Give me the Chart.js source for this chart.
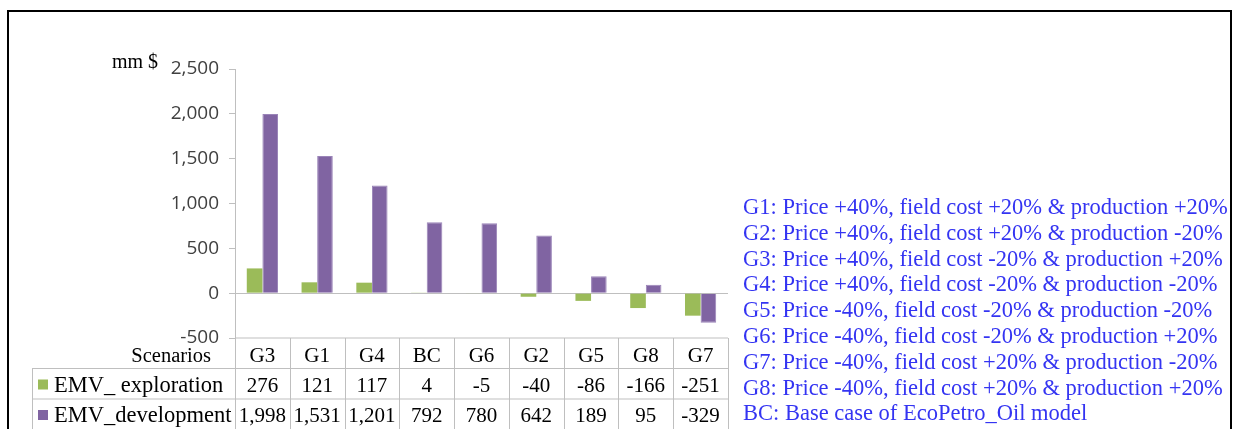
<!DOCTYPE html>
<html>
<head>
<meta charset="utf-8">
<script src="https://cdn.jsdelivr.net/npm/chart.js@4.4.1/dist/chart.umd.min.js"></script>
<style>
  body { margin: 0; background: #fff; }
  canvas { display: block; }
</style>
</head>
<body>
<canvas id="chart" width="1237" height="429"></canvas>
<script>
// Scenario data (mm $)
const scenarios = ['G3', 'G1', 'G4', 'BC', 'G6', 'G2', 'G5', 'G8', 'G7'];
const emvExploration = [276, 121, 117, 4, -5, -40, -86, -166, -251];
const emvDevelopment = [1998, 1531, 1201, 792, 780, 642, 189, 95, -329];
const seriesNames = ['EMV_ exploration', 'EMV_development'];
const yTicks = [-500, 0, 500, 1000, 1500, 2000, 2500];
const notes = [
    'G1: Price +40%, field cost +20% & production +20%',
    'G2: Price +40%, field cost +20% & production -20%',
    'G3: Price +40%, field cost -20% & production +20%',
    'G4: Price +40%, field cost -20% & production -20%',
    'G5: Price -40%, field cost -20% & production -20%',
    'G6: Price -40%, field cost -20% & production +20%',
    'G7: Price -40%, field cost +20% & production -20%',
    'G8: Price -40%, field cost +20% & production +20%',
    'BC: Base case of EcoPetro_Oil model'
];

const greenColour = '#9BBB59';
const purpleColour = '#8064A2';
const gridGrey = '#BFBFBF';
const serif = '"Liberation Serif", "Times New Roman", serif';

/*
* Draws the frame, unit label, data table and scenario notes
*/
const extrasPlugin = {
    id: 'extras',
    afterDraw: function(chart) {
        const ctx = chart.ctx;
        const xs = chart.scales.x;
        const ys = chart.scales.y;
        const top = ys.getPixelForValue(-500);
        const rowH = 30.5;

        ctx.save();

        // outer frame
        ctx.strokeStyle = '#000';
        ctx.lineWidth = 2;
        ctx.strokeRect(8, 11, 1223, 440);

        // unit label
        ctx.fillStyle = '#000';
        ctx.font = '20px ' + serif;
        ctx.textAlign = 'right';
        ctx.textBaseline = 'alphabetic';
        ctx.fillText('mm $', 158, 68);

        // column edges from the category scale
        var edges = [xs.left];
        for (var i = 0; i < scenarios.length - 1; i++) {
            edges.push((xs.getPixelForValue(i) + xs.getPixelForValue(i + 1)) / 2);
        }
        edges.push(xs.right);

        var tableLeft = 32;
        var bottom = top + rowH * 3;

        ctx.strokeStyle = gridGrey;
        ctx.lineWidth = 1;
        ctx.beginPath();
        // horizontal lines
        ctx.moveTo(xs.left, top); ctx.lineTo(xs.right, top);
        ctx.moveTo(tableLeft, top + rowH); ctx.lineTo(xs.right, top + rowH);
        ctx.moveTo(tableLeft, top + rowH * 2); ctx.lineTo(xs.right, top + rowH * 2);
        // verticals
        edges.forEach(function(e) {
            ctx.moveTo(Math.round(e) + 0.5, top); ctx.lineTo(Math.round(e) + 0.5, bottom);
        });
        ctx.moveTo(tableLeft + 0.5, top + rowH); ctx.lineTo(tableLeft + 0.5, bottom);
        ctx.stroke();

        ctx.font = '20.5px ' + serif;
        ctx.fillStyle = '#000';
        ctx.textAlign = 'right';
        ctx.fillText('Scenarios', 211, top + 24);

        ctx.textAlign = 'center';
        ctx.font = '21px ' + serif;
        var rows = [emvExploration, emvDevelopment];
        scenarios.forEach(function(s, i) {
            var cx = xs.getPixelForValue(i);
            ctx.fillText(s, cx, top + 24);
            rows.forEach(function(r, j) {
                ctx.fillText(r[i].toLocaleString('en-US'), cx, top + rowH * (j + 1) + 23);
            });
        });

        // series names with colour keys
        ctx.textAlign = 'left';
        ctx.font = '22.5px ' + serif;
        [greenColour, purpleColour].forEach(function(c, j) {
            var y = top + rowH * (j + 1);
            ctx.fillStyle = c;
            ctx.fillRect(38, y + 11, 10, 10);
            ctx.fillStyle = '#000';
            ctx.fillText(seriesNames[j], 54, y + 23);
        });

        // scenario notes
        ctx.fillStyle = '#3434F2';
        ctx.font = '22.5px ' + serif;
        notes.forEach(function(n, i) {
            ctx.fillText(n, 743, 214 + i * 25.8);
        });

        ctx.restore();
    }
};

new Chart(document.getElementById('chart'), {
    type: 'bar',
    data: {
        labels: scenarios,
        datasets: [{
            label: seriesNames[0],
            data: emvExploration,
            backgroundColor: greenColour,
            barPercentage: 1,
            categoryPercentage: 0.57
        }, {
            label: seriesNames[1],
            data: emvDevelopment,
            backgroundColor: purpleColour,
            borderColor: '#9A84B8',
            borderWidth: 1,
            barPercentage: 1,
            categoryPercentage: 0.57
        }]
    },
    options: {
        responsive: false,
        animation: false,
        layout: {
            padding: { left: 0, top: 69, right: 509, bottom: 91 }
        },
        plugins: {
            legend: { display: false },
            tooltip: { enabled: false }
        },
        scales: {
            x: { display: false },
            y: {
                min: -500,
                max: 2500,
                afterFit: function(scale) { scale.width = 235; },
                afterBuildTicks: function(scale) {
                    scale.ticks = yTicks.map(function(v) { return { value: v }; });
                },
                border: { display: true, color: gridGrey },
                grid: {
                    tickLength: 6,
                    tickColor: gridGrey,
                    color: function(c) {
                        return c.tick && c.tick.value === 0 ? gridGrey : 'rgba(0,0,0,0)';
                    }
                },
                ticks: {
                    padding: 10,
                    color: '#404040',
                    font: { family: '"Open Sans", sans-serif', size: 19 },
                    callback: function(v) { return v.toLocaleString('en-US'); }
                }
            }
        }
    },
    plugins: [extrasPlugin]
});
</script>
</body>
</html>
